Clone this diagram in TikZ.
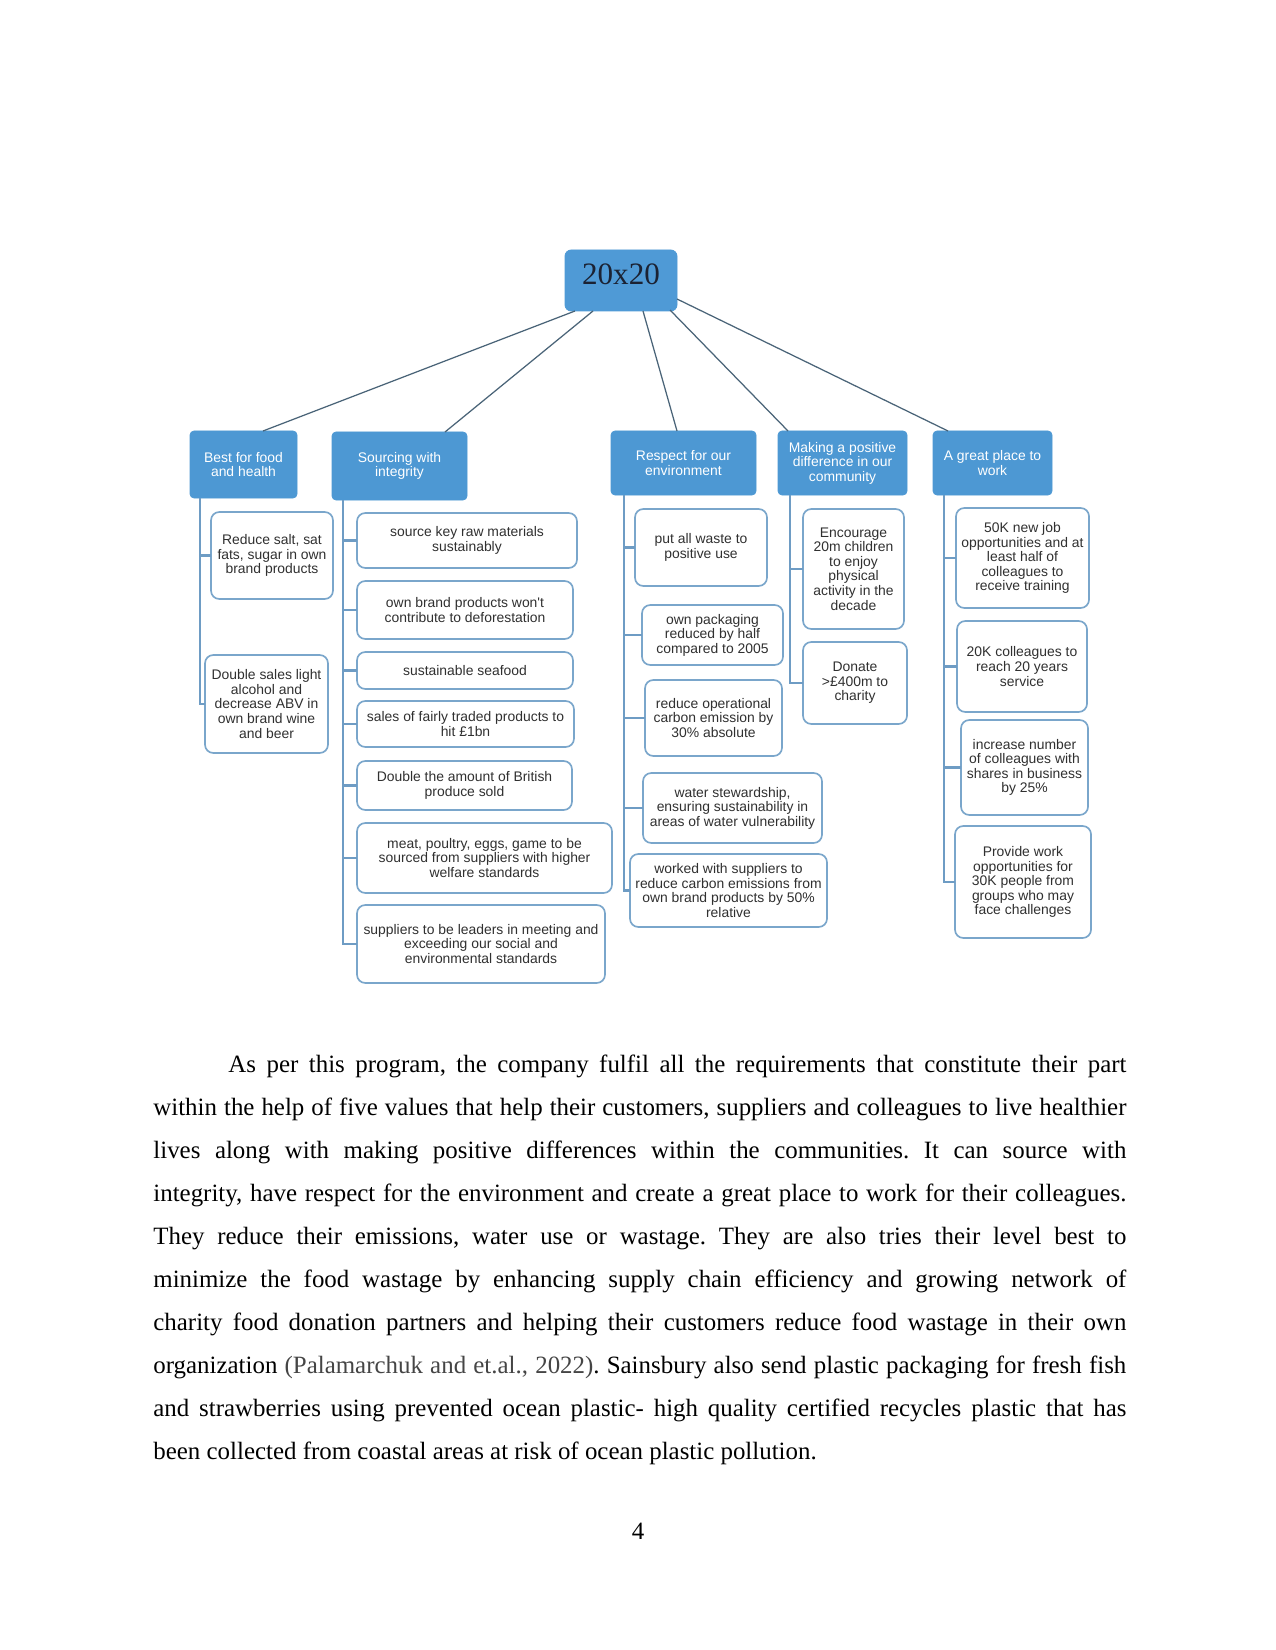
\documentclass[tikz,border=0pt]{standalone}
\usepackage{fontspec}
\setmainfont{Liberation Serif}
\newfontfamily\arialf{Liberation Sans}
\usetikzlibrary{calc}
\definecolor{catblue}{HTML}{4D98D3}
\definecolor{rootblue}{HTML}{4F9AD6}
\definecolor{edgec}{HTML}{7AA6CB}
\definecolor{treec}{HTML}{6E9CC4}
\definecolor{linkc}{HTML}{4A6478}
\definecolor{boxtext}{HTML}{303030}
\definecolor{roottext}{HTML}{1B2233}
\definecolor{citec}{HTML}{454545}
\frenchspacing
\newcommand{\mkbox}[7]{%
  \pgfmathsetmacro\mkw{(#5-#3)*0.4818}%
  \pgfmathsetmacro\mkh{(#6-#4)*0.4818}%
  \node[#1, minimum width=\mkw pt, minimum height=\mkh pt] (#2) at ({(#3+#5)/2},{(#4+#6)/2}) {#7};}
\newcommand{\bline}[5]{% name, x, y, width(px), text
  \pgfmathsetmacro\blw{#4*0.4818}%
  \node[bodyline] (#1) at (#2,#3) {\makebox[\blw pt][s]{#5}};}
\begin{document}
\begin{tikzpicture}[x=0.4818pt,y=-0.4818pt,
  smallfont/.style={font=\arialf\fontsize{6.7}{7}\selectfont},
  catbox/.style={smallfont, fill=catblue, draw=catblue, rounded corners=2pt, text=white, align=center, inner sep=0pt, outer sep=0pt},
  itembox/.style={smallfont, fill=white, draw=edgec, line width=0.8pt, rounded corners=4pt, text=boxtext, align=center, inner sep=0pt, outer sep=0pt},
  rootbox/.style={fill=rootblue, draw=rootblue, rounded corners=3pt, font=\fontsize{15}{18}\selectfont, text=roottext, inner sep=0pt, outer sep=0pt, text height=10pt, text depth=5.7pt},
  link/.style={draw=linkc, line width=0.6pt},
  tree/.style={draw=treec, line width=1pt},
  bodyline/.style={anchor=base west, inner sep=0pt, font=\fontsize{12}{14}\selectfont}
]
\path[use as bounding box, fill=white] (0,0) rectangle (1275,1650);

% root
\mkbox{rootbox}{root}{565}{250}{677}{311}{20x20}

% categories
\mkbox{catbox}{best}{190}{431}{297}{498}{Best for food\\and health}
\mkbox{catbox}{src}{332}{432}{467}{500}{Sourcing with\\integrity}
\mkbox{catbox}{resp}{611}{431}{756}{495}{Respect for our\\environment}
\mkbox{catbox}{make}{778}{431}{907}{495}{Making a positive\\difference in our\\community}
\mkbox{catbox}{great}{933}{431}{1052}{495}{A great place to\\work}

% links from root
\draw[link] ($(root.south)+(-46,0)$) -- ($(best.north)+(19.5,0)$);
\draw[link] ($(root.south)+(-28,0)$) -- ($(src.north)+(45.5,0)$);
\draw[link] ($(root.south)+(22,0)$) -- ($(resp.north)+(-6.5,0)$);
\draw[link] ($(root.south)+(49,-1)$) -- ($(make.north)+(-54.5,0)$);
\draw[link] ($(root.east)+(0,18.5)$) -- ($(great.north)+(-44.5,0)$);

% Best for food children
\mkbox{itembox}{b1}{211}{512}{333}{599}{Reduce salt, sat\\fats, sugar in own\\brand products}
\mkbox{itembox}{b2}{205}{655}{328}{753}{Double sales light\\alcohol and\\decrease ABV in\\own brand wine\\and beer}

% Sourcing children
\mkbox{itembox}{s1}{357}{513}{577}{568}{source key raw materials\\sustainably}
\mkbox{itembox}{s2}{357}{581}{573}{639}{own brand products won't\\contribute to deforestation}
\mkbox{itembox}{s3}{357}{652}{573}{689}{sustainable seafood}
\mkbox{itembox}{s4}{357}{701}{574}{747}{sales of fairly traded products to\\hit £1bn}
\mkbox{itembox}{s5}{357}{761}{572}{810}{Double the amount of British\\produce sold}
\mkbox{itembox}{s6}{357}{823}{612}{893}{meat, poultry, eggs, game to be\\sourced from suppliers with higher\\welfare standards}
\mkbox{itembox}{s7}{357}{905}{605}{983}{suppliers to be leaders in meeting and\\exceeding our social and\\environmental standards}

% Respect children
\mkbox{itembox}{r1}{635}{509}{767}{586}{put all waste to\\positive use}
\mkbox{itembox}{r2}{642}{605}{783}{665}{own packaging\\reduced by half\\compared to 2005}
\mkbox{itembox}{r3}{645}{680}{782}{756}{reduce operational\\carbon emission by\\30\% absolute}
\mkbox{itembox}{r4}{643}{773}{822}{843}{water stewardship,\\ensuring sustainability in\\areas of water vulnerability}
\mkbox{itembox}{r5}{630}{854}{827}{927}{worked with suppliers to\\reduce carbon emissions from\\own brand products by 50\%\\relative}

% Making children
\mkbox{itembox}{m1}{803}{509}{904}{629}{Encourage\\20m children\\to enjoy\\physical\\activity in the\\decade}
\mkbox{itembox}{m2}{803}{642}{907}{724}{Donate\\>£400m to\\charity}

% Great place children
\mkbox{itembox}{g1}{956}{508}{1089}{608}{50K new job\\opportunities and at\\least half of\\colleagues to\\receive training}
\mkbox{itembox}{g2}{957}{621}{1087}{712}{20K colleagues to\\reach 20 years\\service}
\mkbox{itembox}{g3}{961}{720}{1088}{815}{increase number\\of colleagues with\\shares in business\\by 25\%}
\mkbox{itembox}{g4}{955}{826}{1091}{938}{Provide work\\opportunities for\\30K people from\\groups who may\\face challenges}

% tree trunks
\coordinate (bt) at (200,498);
\coordinate (st) at (343,500);
\coordinate (rt) at (624,495);
\coordinate (mt) at (790,495);
\coordinate (gt) at (944,495);
\foreach \c in {b1,b2} \draw[tree] (bt) |- (\c.west);
\foreach \c in {s1,s2,s3,s4,s5,s6,s7} \draw[tree] (st) |- (\c.west);
\foreach \c in {r1,r2,r3,r4,r5} \draw[tree] (rt) |- (\c.west);
\foreach \c in {m1,m2} \draw[tree] (mt) |- (\c.west);
\foreach \c in {g1,g2,g3,g4} \draw[tree] (gt) |- (\c.west);

% body text
\bline{l1}{228}{1072}{898}{As per this program, the company fulfil all the requirements that constitute their part}
\bline{l2}{153}{1115}{973}{within the help of five values that help their customers, suppliers and colleagues to live healthier}
\bline{l3}{153}{1158}{973}{lives along with making positive differences within the communities. It can source with}
\bline{l4}{153}{1201}{973}{integrity, have respect for the environment and create a great place to work for their colleagues.}
\bline{l5}{153}{1244}{973}{They reduce their emissions, water use or wastage. They are also tries their level best to}
\bline{l6}{153}{1287}{973}{minimize the food wastage by enhancing supply chain efficiency and growing network of}
\bline{l7}{153}{1330}{973}{charity food donation partners and helping their customers reduce food wastage in their own}
\bline{l8}{153}{1373}{973}{organization {\color{citec}(Palamarchuk and et.al., 2022)}. Sainsbury also send plastic packaging for fresh fish}
\bline{l9}{153}{1416}{973}{and strawberries using prevented ocean plastic- high quality certified recycles plastic that has}
\node[bodyline] (l10) at (153,1459) {been collected from coastal areas at risk of ocean plastic pollution.};

\node[anchor=base, inner sep=0pt, font=\fontsize{12}{14}\selectfont] (pagenum) at (638,1539) {4};
\end{tikzpicture}
\end{document}
